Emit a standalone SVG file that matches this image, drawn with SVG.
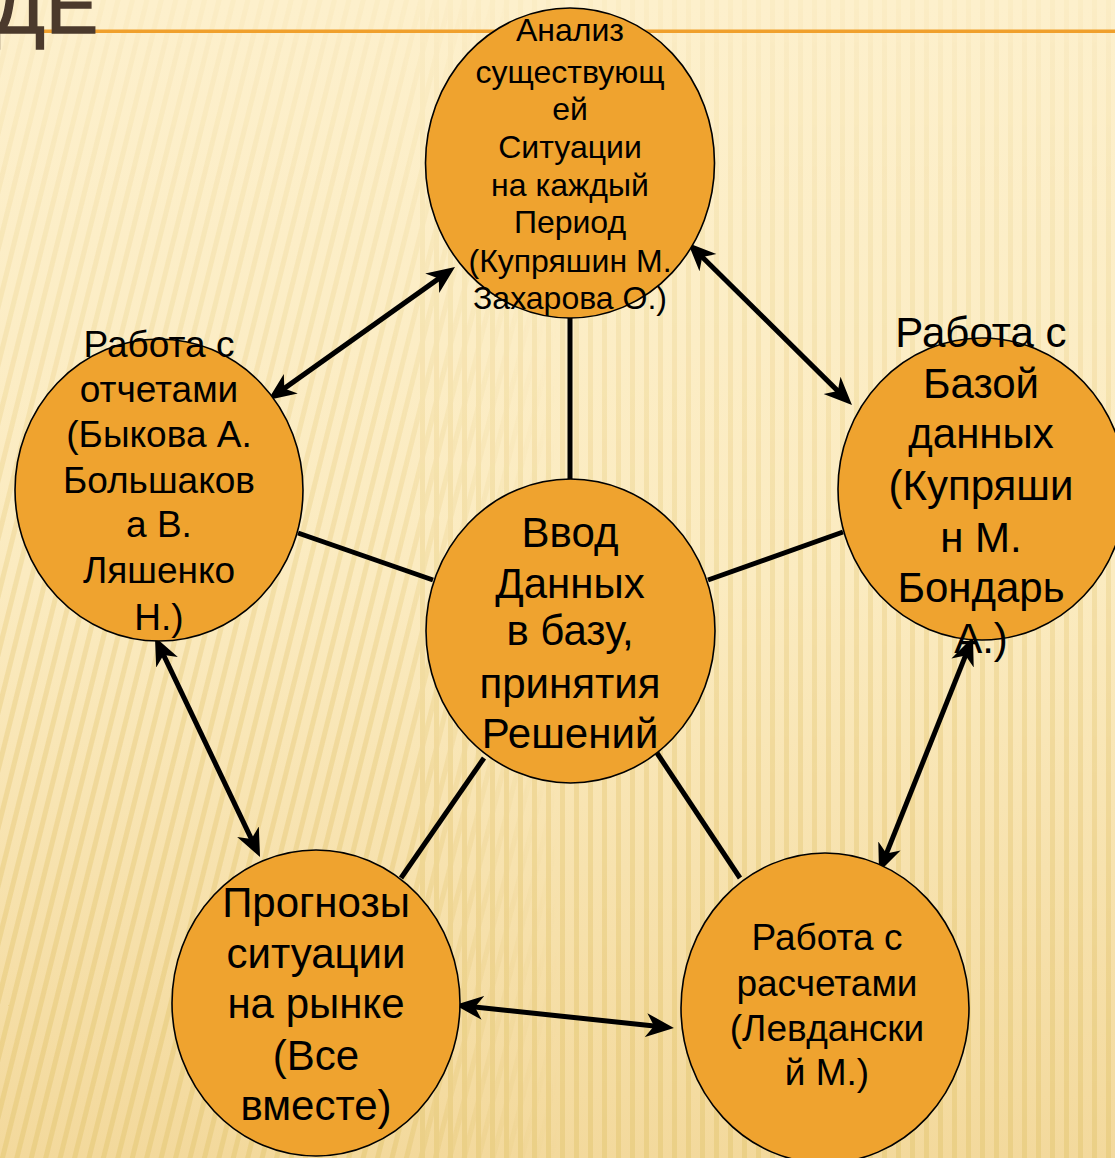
<svg xmlns="http://www.w3.org/2000/svg" width="1115" height="1158" viewBox="0 0 1115 1158">
<defs>
<linearGradient id="bg" x1="0" y1="0" x2="0" y2="1">
<stop offset="0" stop-color="#fdf0cc"/>
<stop offset="0.5" stop-color="#fbebc0"/>
<stop offset="1" stop-color="#f3d99c"/>
</linearGradient>
<pattern id="stripeV" width="14" height="40" patternUnits="userSpaceOnUse">
<rect x="0" y="0" width="5" height="40" fill="#e6c978"/>
</pattern>
<pattern id="stripeD" width="14" height="40" patternUnits="userSpaceOnUse" patternTransform="rotate(14)">
<rect x="0" y="0" width="5" height="40" fill="#e6c978"/>
</pattern>
<linearGradient id="fadeV" x1="0" y1="0" x2="0" y2="1">
<stop offset="0" stop-color="#fff" stop-opacity="0.08"/>
<stop offset="0.4" stop-color="#fff" stop-opacity="0.3"/>
<stop offset="1" stop-color="#fff" stop-opacity="0.6"/>
</linearGradient>
<linearGradient id="fadeH" x1="0" y1="0" x2="1" y2="0">
<stop offset="0" stop-color="#fff" stop-opacity="1"/>
<stop offset="0.35" stop-color="#fff" stop-opacity="1"/>
<stop offset="0.5" stop-color="#fff" stop-opacity="0"/>
</linearGradient>
<mask id="mV"><rect width="1115" height="1158" fill="url(#fadeV)"/></mask>
<mask id="mH"><rect width="1115" height="1158" fill="url(#fadeH)"/></mask>
<marker id="ah" viewBox="0 -13 30 26" refX="20" refY="0" markerWidth="30" markerHeight="26" markerUnits="userSpaceOnUse" orient="auto-start-reverse">
<path d="M0,-12 L28,0 L0,12 L8,0 z" fill="#000"/>
</marker>
<style>
.node ellipse{fill:#efa32f;stroke:#000;stroke-width:1.6}
.node text{font-family:"Liberation Sans",Arial,sans-serif;fill:#000;text-anchor:middle}
.link{stroke:#000;stroke-width:5;fill:none}
.arrow{stroke:#000;stroke-width:5;fill:none;marker-start:url(#ah);marker-end:url(#ah)}
</style>
</defs>
<g id="background">
<rect width="1115" height="1158" fill="url(#bg)"/>
<g mask="url(#mV)">
<g mask="url(#mH)"><rect width="1115" height="1158" fill="url(#stripeD)"/></g>
<rect x="420" width="695" height="1158" fill="url(#stripeV)"/>
</g>
<rect x="0" y="29.5" width="1115" height="3.5" fill="#f0a02c"/>
<text x="-8 46" y="33" font-family="'Liberation Sans',Arial,sans-serif" font-size="78" fill="#4b3a2c" stroke="#4b3a2c" stroke-width="1.5">ДЕ</text>
</g>
<g id="connectors">
<line class="link" x1="570" y1="318" x2="570" y2="482"/>
<line class="link" x1="298" y1="533" x2="433" y2="580"/>
<line class="link" x1="708" y1="580" x2="843" y2="532"/>
<line class="link" x1="484" y1="758" x2="401" y2="878"/>
<line class="link" x1="657" y1="753" x2="740" y2="878"/>
<line class="arrow" x1="274.5" y1="395.4" x2="448.5" y2="271.6"/>
<line class="arrow" x1="693.7" y1="248.6" x2="846.3" y2="399.4"/>
<line class="arrow" x1="158.4" y1="644.2" x2="256.6" y2="849.8"/>
<line class="arrow" x1="970" y1="644.4" x2="882" y2="864.6"/>
<line class="arrow" x1="463" y1="1005.8" x2="666" y2="1027.2"/>
</g>
<g id="node-top" class="node">
<ellipse cx="570" cy="163" rx="144.5" ry="155"/>
<text font-size="32"><tspan x="570" y="41">Анализ</tspan><tspan x="570" y="83">существующ</tspan><tspan x="570" y="120">ей</tspan><tspan x="570" y="158">Ситуации</tspan><tspan x="570" y="196">на каждый</tspan><tspan x="570" y="233">Период</tspan><tspan x="570" y="272">(Купряшин М.</tspan><tspan x="570" y="309">Захарова О.)</tspan></text>
</g>
<g id="node-left" class="node">
<ellipse cx="159" cy="490" rx="144" ry="151"/>
<text font-size="37"><tspan x="159" y="357">Работа с</tspan><tspan x="159" y="402">отчетами</tspan><tspan x="159" y="447">(Быкова А.</tspan><tspan x="159" y="493">Большаков</tspan><tspan x="159" y="537">а В.</tspan><tspan x="159" y="583">Ляшенко</tspan><tspan x="159" y="630">Н.)</tspan></text>
</g>
<g id="node-center" class="node">
<ellipse cx="570.5" cy="631" rx="144.5" ry="152"/>
<text font-size="42"><tspan x="570" y="547">Ввод</tspan><tspan x="570" y="598">Данных</tspan><tspan x="570" y="645">в базу,</tspan><tspan x="570" y="698">принятия</tspan><tspan x="570" y="748">Решений</tspan></text>
</g>
<g id="node-right" class="node">
<ellipse cx="982" cy="489" rx="144" ry="151"/>
<text font-size="42"><tspan x="981" y="347">Работа с</tspan><tspan x="981" y="398">Базой</tspan><tspan x="981" y="448">данных</tspan><tspan x="981" y="500">(Купряши</tspan><tspan x="981" y="552">н М.</tspan><tspan x="981" y="602">Бондарь</tspan><tspan x="981" y="653">А.)</tspan></text>
</g>
<g id="node-bottom-left" class="node">
<ellipse cx="316" cy="1003" rx="144" ry="153"/>
<text font-size="42"><tspan x="316" y="917">Прогнозы</tspan><tspan x="316" y="968">ситуации</tspan><tspan x="316" y="1018">на рынке</tspan><tspan x="316" y="1070">(Все</tspan><tspan x="316" y="1120">вместе)</tspan></text>
</g>
<g id="node-bottom-right" class="node">
<ellipse cx="825" cy="1008" rx="144" ry="155"/>
<text font-size="37"><tspan x="827" y="950">Работа с</tspan><tspan x="827" y="996">расчетами</tspan><tspan x="827" y="1041">(Левдански</tspan><tspan x="827" y="1085">й М.)</tspan></text>
</g>
</svg>
